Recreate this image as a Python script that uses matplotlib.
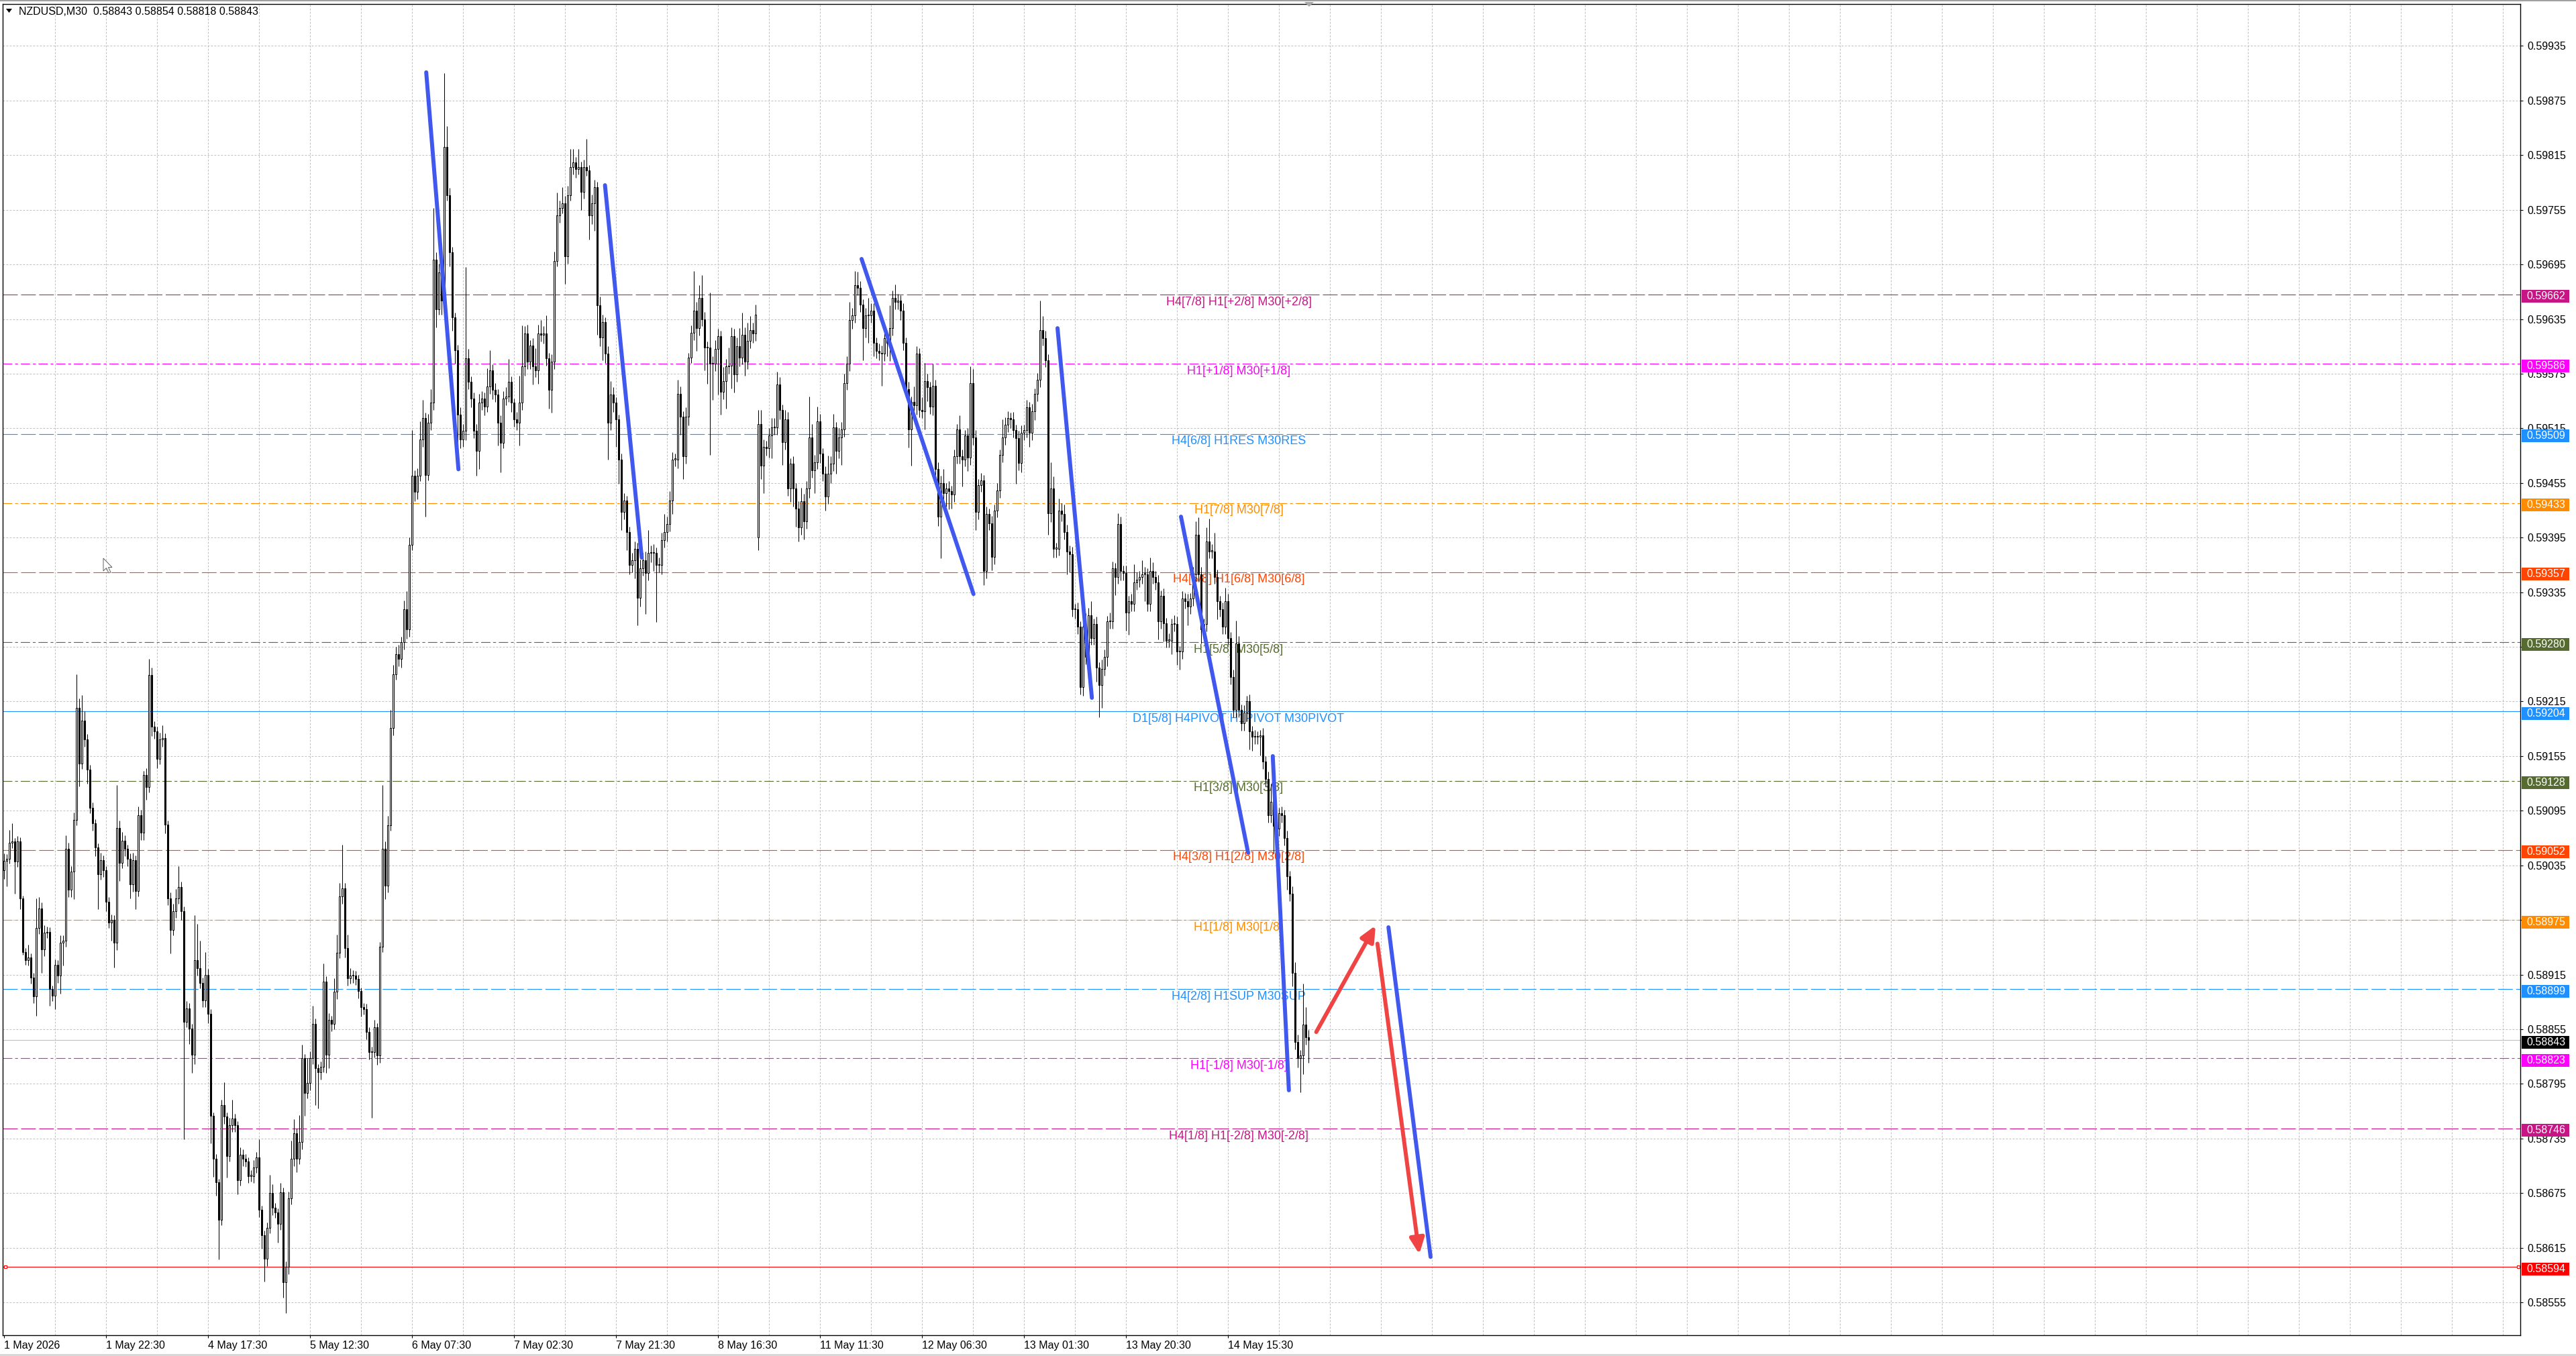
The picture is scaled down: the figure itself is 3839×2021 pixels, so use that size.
import matplotlib
matplotlib.use("Agg")
import matplotlib.pyplot as plt
import numpy as np
from matplotlib.patches import Polygon, Rectangle
from matplotlib.transforms import blended_transform_factory

plt.rcParams["font.family"] = ["Liberation Sans", "DejaVu Sans"]
plt.rcParams["lines.scale_dashes"] = False

W, H = 3839, 2021

# --- chart data: prices are points above 0.58000 (1 point = 0.00001) ---
BASE = 0.58
symbol_text = "NZDUSD,M30  0.58843 0.58854 0.58818 0.58843"
first_open = 1030
gap_open = {281: 1395}

closes = [
    1040, 1042, 1060, 1061, 1039, 1061, 999, 940, 931, 934, 912, 891, 966, 988, 943, 961, 962, 899, 892, 926, 914, 950, 952, 1053, 1008,
    1028, 1085, 1208, 1147, 1194, 1173, 1140, 1098, 1081, 1055, 1025, 1041, 1030, 995, 972, 975, 950, 1076, 1038, 1062, 1053, 1042, 1014, 1041, 1007,
    1090, 1071, 1134, 1121, 1244, 1187, 1182, 1152, 1173, 1175, 1080, 999, 964, 985, 999, 1011, 985, 863, 878, 856, 827, 931, 922, 906, 887,
    915, 872, 760, 713, 687, 646, 772, 759, 716, 750, 757, 750, 689, 717, 713, 710, 694, 694, 703, 714, 657, 629, 603, 637, 675,
    659, 654, 641, 676, 577, 594, 669, 713, 741, 713, 731, 823, 785, 796, 823, 861, 812, 808, 814, 907, 827, 865, 861, 896, 939,
    1001, 1010, 944, 911, 914, 914, 910, 897, 879, 877, 852, 830, 830, 857, 826, 946, 1053, 1013, 1079, 1186, 1245, 1267, 1262, 1280, 1316,
    1294, 1387, 1463, 1445, 1463, 1503, 1526, 1464, 1521, 1543, 1700, 1646, 1686, 1655, 1824, 1771, 1708, 1637, 1601, 1530, 1503, 1512, 1592, 1566, 1548,
    1512, 1490, 1543, 1548, 1539, 1561, 1579, 1557, 1552, 1521, 1499, 1548, 1550, 1566, 1543, 1525, 1521, 1543, 1583, 1619, 1588, 1606, 1583, 1579, 1619,
    1618, 1619, 1592, 1557, 1588, 1699, 1749, 1757, 1762, 1704, 1771, 1802, 1807, 1800, 1802, 1775, 1802, 1798, 1749, 1762, 1780, 1650, 1615, 1632, 1597,
    1521, 1552, 1543, 1525, 1481, 1423, 1436, 1401, 1365, 1370, 1383, 1329, 1361, 1370, 1356, 1378, 1378, 1378, 1365, 1365, 1392, 1401, 1410, 1436, 1481,
    1481, 1553, 1528, 1484, 1528, 1593, 1620, 1644, 1625, 1658, 1635, 1604, 1604, 1586, 1586, 1602, 1616, 1555, 1567, 1583, 1584, 1616, 1574, 1605, 1593,
    1618, 1588, 1611, 1623, 1619, 1640, 1520, 1474, 1495, 1493, 1507, 1516, 1516, 1563, 1535, 1500, 1525, 1449, 1476, 1449, 1427, 1406, 1435, 1413, 1449,
    1505, 1469, 1478, 1523, 1487, 1465, 1440, 1465, 1476, 1516, 1490, 1505, 1514, 1565, 1586, 1634, 1639, 1672, 1669, 1651, 1625, 1639, 1639, 1644, 1609,
    1600, 1598, 1597, 1614, 1609, 1625, 1658, 1654, 1655, 1644, 1609, 1558, 1514, 1544, 1540, 1597, 1535, 1534, 1567, 1560, 1539, 1562, 1470, 1418, 1455,
    1444, 1449, 1446, 1442, 1484, 1514, 1484, 1481, 1507, 1483, 1565, 1505, 1423, 1453, 1458, 1358, 1421, 1411, 1374, 1425, 1447, 1486, 1505, 1519, 1526,
    1525, 1513, 1504, 1477, 1510, 1513, 1538, 1510, 1534, 1553, 1568, 1623, 1614, 1590, 1422, 1449, 1383, 1383, 1425, 1421, 1401, 1380, 1377, 1316, 1316,
    1297, 1231, 1297, 1264, 1310, 1285, 1300, 1252, 1233, 1251, 1264, 1303, 1303, 1361, 1352, 1410, 1358, 1356, 1313, 1325, 1322, 1346, 1349, 1352, 1355,
    1355, 1322, 1358, 1352, 1346, 1303, 1331, 1301, 1282, 1282, 1300, 1300, 1270, 1270, 1328, 1325, 1319, 1328, 1355, 1398, 1355, 1294, 1300, 1391, 1380,
    1380, 1352, 1325, 1316, 1297, 1325, 1285, 1242, 1206, 1279, 1206, 1191, 1203, 1215, 1182, 1176, 1176, 1176, 1178, 1149, 1130, 1090, 1105, 1078, 1075,
    1092, 1090, 1065, 1023, 1004, 917, 841, 823, 826, 860, 846, 843,
]

wick_up = [
    8, 5, 14, 20, 4, 6, 5, 3, 4, 14, 4, 5, 33, 12, 6, 8, 6, 5, 4, 6, 5, 8, 6, 15, 7,
    6, 8, 37, 10, 28, 10, 6, 5, 6, 5, 4, 8, 5, 4, 5, 6, 5, 47, 8, 10, 6, 5, 6, 8, 5,
    10, 6, 5, 8, 18, 8, 6, 5, 8, 14, 5, 4, 6, 8, 10, 23, 6, 5, 8, 6, 5, 49, 40, 30, 6,
    25, 6, 5, 4, 5, 4, 6, 25, 5, 8, 21, 5, 4, 8, 6, 5, 4, 6, 8, 6, 20, 4, 5, 6, 20,
    10, 5, 4, 10, 5, 6, 8, 20, 15, 5, 30, 15, 5, 27, 8, 20, 6, 5, 6, 20, 6, 8, 5, 15, 20,
    15, 48, 6, 15, 8, 6, 5, 5, 4, 5, 6, 5, 6, 8, 5, 5, 70, 8, 10, 20, 10, 8, 10, 6, 10,
    20, 8, 50, 6, 8, 20, 20, 6, 10, 15, 57, 8, 10, 6, 81, 23, 8, 6, 5, 6, 8, 8, 100, 10, 6,
    6, 8, 10, 8, 6, 20, 22, 6, 8, 6, 8, 8, 10, 25, 6, 5, 8, 30, 45, 8, 10, 6, 8, 20, 10,
    15, 8, 20, 6, 8, 10, 25, 8, 18, 8, 10, 20, 15, 6, 20, 6, 8, 31, 6, 10, 8, 6, 10, 8, 5,
    8, 15, 8, 6, 5, 6, 8, 5, 6, 8, 8, 6, 10, 8, 10, 25, 8, 10, 6, 8, 8, 20, 8, 10, 8,
    6, 15, 8, 6, 10, 5, 8, 44, 10, 14, 25, 8, 6, 60, 8, 10, 8, 6, 15, 8, 20, 10, 8, 10, 20,
    24, 8, 20, 15, 8, 11, 15, 15, 8, 6, 8, 10, 10, 14, 8, 6, 10, 8, 6, 8, 6, 8, 15, 8, 8,
    45, 15, 8, 16, 8, 6, 8, 20, 8, 15, 6, 10, 8, 10, 8, 20, 8, 16, 15, 8, 6, 8, 19, 8, 8,
    6, 8, 8, 6, 8, 25, 8, 15, 8, 6, 8, 6, 8, 6, 17, 8, 6, 14, 20, 8, 6, 24, 6, 8, 8,
    15, 6, 8, 6, 8, 6, 15, 8, 6, 8, 18, 15, 8, 6, 8, 6, 8, 6, 8, 6, 8, 6, 20, 8, 8,
    6, 8, 6, 8, 8, 6, 8, 6, 8, 6, 8, 32, 15, 8, 6, 29, 13, 6, 13, 8, 10, 8, 6, 8, 6,
    8, 6, 8, 15, 8, 15, 6, 8, 6, 10, 8, 6, 10, 8, 6, 12, 8, 6, 8, 6, 8, 20, 8, 6, 15,
    8, 6, 15, 10, 6, 8, 6, 8, 6, 8, 6, 10, 8, 6, 8, 6, 8, 6, 8, 15, 19, 8, 6, 15, 25,
    8, 20, 8, 6, 8, 15, 8, 6, 8, 25, 8, 6, 8, 6, 8, 6, 8, 6, 6, 8, 6, 8, 20, 6, 8,
    6, 8, 6, 8, 6, 8, 12, 8, 6, 45, 19, 8,
]

wick_dn = [
    10, 28, 5, 6, 35, 6, 12, 3, 5, 6, 7, 7, 21, 6, 26, 8, 6, 18, 6, 15, 8, 20, 25, 6, 8,
    8, 30, 6, 25, 6, 8, 15, 6, 8, 10, 38, 6, 8, 10, 6, 20, 27, 8, 20, 6, 8, 8, 15, 8, 20,
    6, 8, 8, 14, 6, 10, 8, 10, 6, 8, 10, 8, 26, 6, 8, 6, 10, 129, 6, 17, 20, 10, 8, 6, 8,
    8, 10, 30, 20, 15, 44, 6, 8, 24, 6, 8, 8, 15, 6, 8, 6, 8, 6, 8, 6, 8, 15, 25, 8, 6,
    8, 6, 20, 6, 17, 34, 8, 6, 8, 15, 6, 8, 25, 6, 8, 6, 40, 40, 8, 6, 20, 15, 8, 6, 8,
    6, 8, 10, 8, 6, 8, 6, 8, 10, 6, 8, 8, 72, 6, 10, 8, 6, 15, 8, 6, 8, 6, 8, 10, 8,
    10, 8, 6, 10, 8, 6, 8, 46, 6, 8, 8, 20, 6, 15, 8, 6, 15, 15, 15, 40, 10, 8, 10, 8, 10,
    8, 27, 20, 8, 10, 6, 8, 10, 8, 25, 32, 6, 8, 6, 10, 8, 8, 25, 8, 10, 8, 8, 20, 8, 15,
    8, 10, 8, 20, 25, 8, 6, 8, 6, 30, 8, 6, 8, 10, 6, 20, 8, 6, 27, 10, 30, 32, 10, 25, 10,
    40, 8, 10, 30, 27, 20, 8, 20, 10, 8, 20, 30, 10, 8, 45, 8, 10, 20, 63, 8, 10, 8, 10, 8, 15,
    8, 10, 20, 25, 8, 10, 6, 8, 25, 8, 8, 25, 40, 100, 40, 8, 50, 25, 8, 30, 8, 25, 20, 8, 10,
    8, 15, 8, 8, 10, 8, 14, 15, 30, 8, 10, 25, 8, 8, 10, 25, 8, 8, 15, 20, 20, 15, 8, 20, 8,
    10, 8, 25, 8, 10, 8, 15, 8, 10, 8, 25, 8, 30, 8, 8, 8, 10, 8, 8, 8, 35, 10, 30, 8, 15,
    8, 8, 35, 8, 15, 20, 8, 8, 8, 10, 8, 8, 20, 40, 8, 10, 8, 8, 20, 15, 8, 10, 8, 10, 46,
    8, 15, 20, 15, 8, 8, 8, 30, 8, 15, 8, 8, 20, 8, 8, 15, 8, 8, 15, 8, 8, 8, 8, 8, 8,
    10, 8, 50, 8, 10, 8, 8, 15, 8, 10, 8, 8, 8, 8, 24, 10, 10, 10, 8, 8, 8, 25, 20, 8, 10,
    8, 8, 10, 8, 8, 8, 8, 15, 35, 25, 8, 10, 8, 8, 20, 8, 10, 8, 20, 25, 8, 8, 8, 8, 8,
    30, 8, 8, 8, 8, 20, 8, 20, 8, 8, 15, 8, 15, 20, 8, 8, 20, 8, 8, 8, 8, 15, 8, 8, 8,
    8, 8, 20, 8, 8, 8, 8, 8, 8, 8, 8, 8, 8, 10, 20, 15, 8, 8, 20, 8, 8, 8, 8, 30, 8,
    8, 8, 8, 15, 8, 15, 8, 10, 37, 20, 8, 25,
]

tick_bars = [0, 38, 76, 114, 152, 190, 228, 266, 304, 342, 380, 418, 456]
tick_labels = ["1 May 2026", "1 May 22:30", "4 May 17:30", "5 May 12:30", "6 May 07:30",
               "7 May 02:30", "7 May 21:30", "8 May 16:30", "11 May 11:30", "12 May 06:30",
               "13 May 01:30", "13 May 20:30", "14 May 15:30"]
price_ticks = [round(0.58555 + 0.0006 * k, 5) for k in range(24)]

levels = [0.59662, 0.59586, 0.59509, 0.59433, 0.59357, 0.59280, 0.59204,
          0.59128, 0.59052, 0.58975, 0.58899, 0.58823, 0.58746]
level_names = ["H4[7/8] H1[+2/8] M30[+2/8]", "H1[+1/8] M30[+1/8]", "H4[6/8] H1RES M30RES",
               "H1[7/8] M30[7/8]", "H4[5/8] H1[6/8] M30[6/8]", "H1[5/8] M30[5/8]",
               "D1[5/8] H4PIVOT H1PIVOT M30PIVOT", "H1[3/8] M30[3/8]", "H4[3/8] H1[2/8] M30[2/8]",
               "H1[1/8] M30[1/8]", "H4[2/8] H1SUP M30SUP", "H1[-1/8] M30[-1/8]",
               "H4[1/8] H1[-2/8] M30[-2/8]"]
level_colors = ["#C71585", "#FF00FF", "#1E90FF", "#FF8C00", "#FF4500", "#556B2F", "#1E90FF",
                "#556B2F", "#FF4500", "#FF8C00", "#1E90FF", "#FF00FF", "#C71585"]
level_styles = ["dash", "dashdot", "dash", "dashdot", "dash", "dashdot", "solid",
                "dashdot", "dash", "dashdot", "dash", "dashdot", "dash"]
current_price = 0.58843
stop_price = 0.58594

trend_bar0 = [157.3, 223.9, 319.5, 392.5, 438.5, 472.7, 515.8]
trend_price0 = [0.59906, 0.59782, 0.59701, 0.59625, 0.59418, 0.59155, 0.58967]
trend_bar1 = [169.3, 237.6, 361.2, 405.3, 463.5, 478.7, 531.5]
trend_price1 = [0.59470, 0.59373, 0.59333, 0.59219, 0.59049, 0.58788, 0.58605]

arrow_bar0 = [488.9, 511.7]
arrow_price0 = [0.58852, 0.58949]
arrow_bar1 = [511.0, 527.3]
arrow_price1 = [0.58969, 0.58608]


def fx(x):
    return x / W


def fy(y):
    return 1 - y / H


assert len(closes) == len(wick_up) == len(wick_dn), (len(closes), len(wick_up), len(wick_dn))

c_pts = np.array(closes, dtype=float)
o_pts = np.concatenate([[first_open], c_pts[:-1]])
for i, v in gap_open.items():
    o_pts[i] = v
hi_pts = np.maximum(o_pts, c_pts) + np.array(wick_up)
lo_pts = np.minimum(o_pts, c_pts) - np.array(wick_dn)
o = BASE + o_pts / 1e5
c = BASE + c_pts / 1e5
hi = BASE + hi_pts / 1e5
lo = BASE + lo_pts / 1e5
x = np.arange(len(c))

fig = plt.figure(figsize=(W / 100, H / 100), dpi=100)
ax = fig.add_axes([fx(4), fy(1990), (3756 - 4) / W, (1990 - 6) / H])
ax.set_xlim(-0.5, 937.5)
ax.set_ylim(0.58519, 0.59981)
for s in ax.spines.values():
    s.set_linewidth(1.0)
    s.set_color("black")

# grid
grid_ls = (0, (2.0, 1.6))
for v in price_ticks:
    ax.axhline(v, color="#C0C0C0", lw=0.75, ls=grid_ls, zorder=0.5)
for b in range(19, 938, 19):
    ax.axvline(b, color="#C0C0C0", lw=0.75, ls=grid_ls, zorder=0.5)

# level lines and their captions
styles = {"dash": (0, (15.8, 3.6)), "dashdot": (0, (10, 3, 3, 3)), "solid": "-"}
label_bar = 460
for p, name, col, st in zip(levels, level_names, level_colors, level_styles):
    ax.axhline(p, color=col, lw=0.8, ls=styles[st], zorder=2)
    ax.annotate(name, (label_bar, p), xytext=(0, -8), textcoords="offset points",
                ha="center", va="center", fontsize=13, color=col, zorder=3)
ax.axhline(current_price, color="#C0C0C0", lw=0.8, zorder=1.5)
ax.axhline(stop_price, color="#FF0000", lw=0.8, zorder=2)
edge_tr = blended_transform_factory(ax.transAxes, ax.transData)
ax.plot([0.001, 0.9992], [stop_price, stop_price], transform=edge_tr, ls="none",
        marker="s", ms=3.2, mfc="white", mec="#FF0000", mew=0.8, zorder=3, clip_on=False)

# candles
bull = c >= o
body_lo = np.minimum(o, c)
body_h = np.maximum(np.abs(c - o), 0.000008)
ax.vlines(x, lo, hi, color="black", lw=0.75, zorder=4)
ax.bar(x[bull], body_h[bull], bottom=body_lo[bull], width=0.62, color="white",
       edgecolor="black", linewidth=0.75, zorder=4.5)
ax.bar(x[~bull], body_h[~bull], bottom=body_lo[~bull], width=0.62, color="black",
       edgecolor="black", linewidth=0.75, zorder=4.5)

# hand-drawn trend lines and arrows
for b0, p0, b1, p1 in zip(trend_bar0, trend_price0, trend_bar1, trend_price1):
    ax.plot([b0, b1], [p0, p1], color="#4058EE", lw=4.3, solid_capstyle="round", zorder=6)
for b0, p0, b1, p1 in zip(arrow_bar0, arrow_price0, arrow_bar1, arrow_price1):
    ax.annotate("", xy=(b1, p1), xytext=(b0, p0), zorder=7,
                arrowprops=dict(arrowstyle="-|>,head_length=0.7,head_width=0.32",
                                mutation_scale=20, lw=4.3, color="#F04444",
                                shrinkA=0, shrinkB=0, capstyle="round"))

# axes ticks
ax.set_xticks(tick_bars)
ax.set_xticklabels(tick_labels, ha="left")
ax.tick_params(axis="x", direction="out", length=3, width=0.8, pad=3, labelsize=11.5)
ax.yaxis.tick_right()
ax.set_yticks(price_ticks)
ax.set_yticklabels([f"{v:.5f}" for v in price_ticks])
ax.tick_params(axis="y", direction="out", length=3, width=0.8, pad=4.3, labelsize=11.5)

# price tags on the right scale (sit a little below their line)
tag_tr = blended_transform_factory(fig.transFigure, ax.transData)
tag_h = 19 / 1.357 * 1e-5
tag_drop = 3 / 1.357 * 1e-5
tag_prices = levels + [current_price, stop_price]
tag_colors = level_colors + ["#000000", "#FF0000"]
for p, col in zip(tag_prices, tag_colors):
    yc = p - tag_drop
    fig.add_artist(Rectangle((fx(3758), yc - tag_h / 2), (3829 - 3758) / W, tag_h,
                             transform=tag_tr, facecolor=col, edgecolor="none", zorder=5))
    fig.text(fx(3765), yc, f"{p:.5f}", transform=tag_tr, color="white", fontsize=11.5,
             va="center", ha="left", zorder=6)

# window decorations
fig.add_artist(Rectangle((0, fy(2)), 1, 2 / H, transform=fig.transFigure,
                         facecolor="#A0A0A0", edgecolor="none", zorder=1))
fig.add_artist(Rectangle((0, 0), 1, 3 / H, transform=fig.transFigure,
                         facecolor="#D8D8D8", edgecolor="none", zorder=1))
fig.add_artist(Polygon([[fx(9), fy(13)], [fx(18), fy(13)], [fx(13.5), fy(19)]],
                       closed=True, transform=fig.transFigure, facecolor="black",
                       edgecolor="none", zorder=5))
fig.text(fx(28), fy(17), symbol_text, fontsize=11.5, va="center", ha="left", zorder=5)
fig.add_artist(Polygon([[fx(1944), fy(3)], [fx(1958), fy(3)], [fx(1951), fy(10)]],
                       closed=True, transform=fig.transFigure, facecolor="#A8A8A8",
                       edgecolor="none", zorder=5))
cursor = [(0, 0), (0, 19), (4.5, 14.5), (8, 22), (11, 21), (7.5, 13.5), (13, 13.5)]
fig.add_artist(Polygon([[fx(154 + a), fy(832 + b)] for a, b in cursor], closed=True,
                       transform=fig.transFigure, facecolor="white", edgecolor="#606060",
                       lw=0.7, zorder=5))

fig.savefig("out.png", dpi=100)
